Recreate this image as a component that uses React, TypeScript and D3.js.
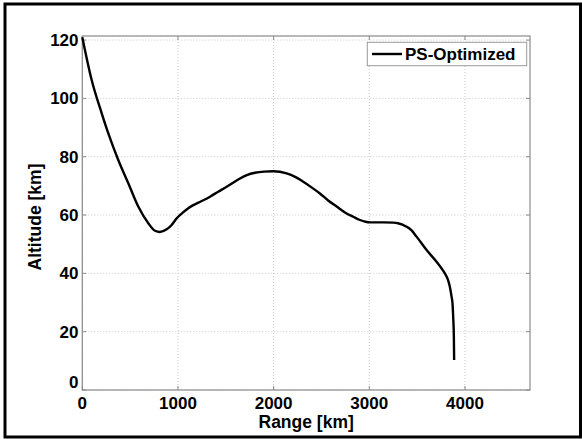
import React from "react";
import * as d3 from "d3";

const rangeKm = [0, 98, 203, 272, 376, 481, 585, 690, 760, 812, 882, 934, 987, 1050, 1108, 1160, 1248, 1335, 1421, 1509, 1630, 1720, 1805, 1900, 1996, 2136, 2230, 2310, 2400, 2484, 2570, 2659, 2750, 2832, 2902, 2960, 3010, 3150, 3250, 3300, 3390, 3440, 3494, 3599, 3703, 3760, 3790, 3820, 3842, 3860, 3870, 3877, 3884, 3887];
const altitudeKm = [121, 106.3, 94.9, 88, 78.9, 70.9, 62.9, 57.2, 54.6, 54.2, 55.1, 56.6, 58.9, 60.8, 62.3, 63.4, 64.8, 66.3, 68, 69.7, 72.2, 73.7, 74.5, 74.9, 75, 74.3, 73, 71.4, 69.4, 67.4, 65, 62.9, 60.8, 59.4, 58.3, 57.7, 57.5, 57.5, 57.4, 57.2, 56, 54.8, 52.6, 48, 44, 41.5, 40, 38, 35.4, 32, 29.7, 25.1, 18.3, 10.3];
const xTicks = [0, 1000, 2000, 3000, 4000];
const yTicks = [0, 20, 40, 60, 80, 100, 120];
const seriesName = "PS-Optimized";
const xLabel = "Range [km]";
const yLabel = "Altitude [km]";

export default function App() {
  const W = 582, H = 439;
  const L = 82.3, R = 530, T = 36, B = 390;
  const x = d3.scaleLinear().domain([0, 4680]).range([L, R]);
  const y = d3.scaleLinear().domain([0, 121.4]).range([B, T]);
  const pts = rangeKm.map((v, i) => [v, altitudeKm[i]] as [number, number]);
  const line = d3.line<[number, number]>().x(d => x(d[0])).y(d => y(d[1])).curve(d3.curveMonotoneX);
  const font = "'Liberation Sans', Arial, sans-serif";
  const gridColor = "#c8c8c8";
  const axisColor = "#8a8a8a";
  return (
    <svg width={W} height={H} style={{ position: "absolute", left: 0, top: 0 }}>
      <rect x={0} y={0} width={W} height={H} fill="#fff" />
      <rect x={5} y={4} width={575.5} height={433} fill="none" stroke="#000" strokeWidth={3} />
      {xTicks.map(t => (
        <line key={"gx" + t} x1={x(t)} x2={x(t)} y1={T} y2={B} stroke={gridColor} strokeWidth={1} strokeDasharray="1,2" />
      ))}
      {yTicks.map(t => (
        <line key={"gy" + t} x1={L} x2={R} y1={y(t)} y2={y(t)} stroke={gridColor} strokeWidth={1} strokeDasharray="1,2" />
      ))}
      {xTicks.map(t => (
        <g key={"tx" + t}>
          <line x1={x(t)} x2={x(t)} y1={B} y2={B - 4} stroke={axisColor} />
          <line x1={x(t)} x2={x(t)} y1={T} y2={T + 4} stroke={axisColor} />
        </g>
      ))}
      {yTicks.map(t => (
        <g key={"ty" + t}>
          <line x1={L} x2={L + 4} y1={y(t)} y2={y(t)} stroke={axisColor} />
          <line x1={R} x2={R - 4} y1={y(t)} y2={y(t)} stroke={axisColor} />
        </g>
      ))}
      <rect x={L} y={T} width={R - L} height={B - T} fill="none" stroke={axisColor} strokeWidth={1.2} />
      <path d={line(pts) || ""} fill="none" stroke="#000" strokeWidth={2.4} strokeLinejoin="round" />
      {xTicks.map(t => (
        <text key={"lx" + t} x={x(t)} y={409} textAnchor="middle" fontFamily={font} fontWeight="bold" fontSize={17}>{t}</text>
      ))}
      {yTicks.map(t => (
        <text key={"ly" + t} x={78.5} y={y(t) + (t === 0 ? -8 : 0)} dy="0.35em" textAnchor="end" fontFamily={font} fontWeight="bold" fontSize={17}>{t}</text>
      ))}
      <text x={(L + R) / 2} y={428} textAnchor="middle" fontFamily={font} fontWeight="bold" fontSize={17.5}>{xLabel}</text>
      <text transform={`translate(41,217) rotate(-90)`} textAnchor="middle" fontFamily={font} fontWeight="bold" fontSize={17.5}>{yLabel}</text>
      <g>
        <rect x={367.3} y={42.3} width={159.4} height={23.4} fill="#fff" stroke="#9a9a9a" strokeWidth={1} />
        <line x1={372} x2={402} y1={54} y2={54} stroke="#000" strokeWidth={2.4} />
        <text x={405} y={54} dy="0.35em" fontFamily={font} fontWeight="bold" fontSize={17}>{seriesName}</text>
      </g>
    </svg>
  );
}
